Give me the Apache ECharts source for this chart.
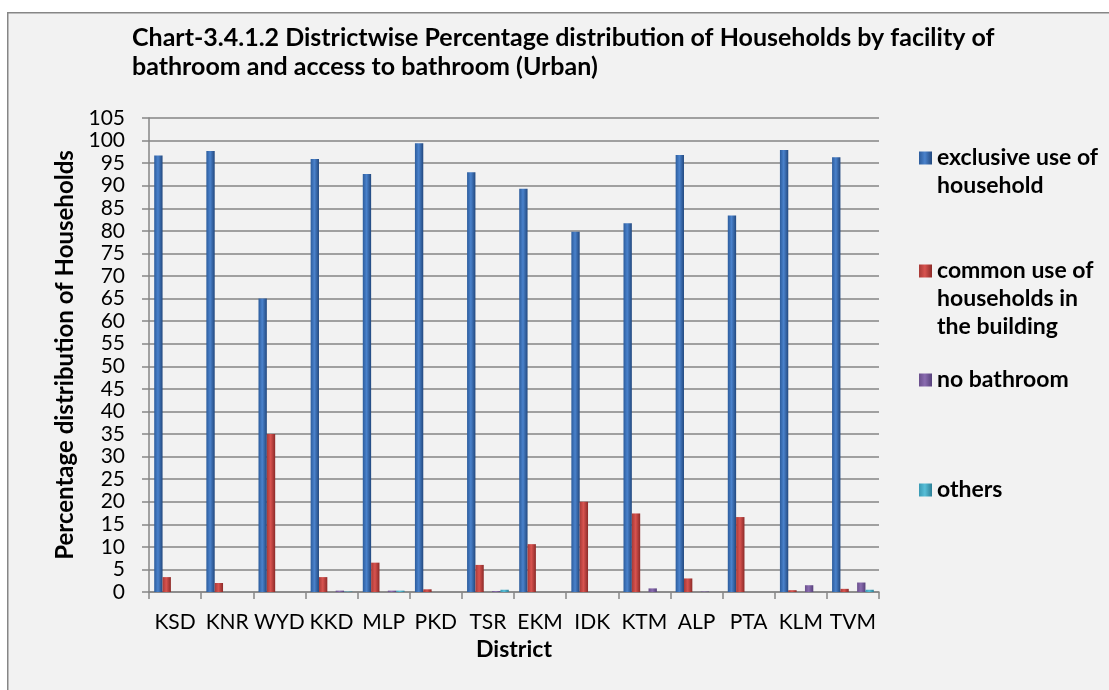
<!DOCTYPE html>
<html>
<head>
<meta charset="utf-8">
<title>Chart-3.4.1.2</title>
<script src="https://cdn.jsdelivr.net/npm/echarts@6/dist/echarts.min.js"></script>
<style>
  html, body { margin: 0; padding: 0; background: #fff; }
  #chart { width: 1109px; height: 690px; }
</style>
</head>
<body>
<div id="chart"></div>
<script>
// Districts (x axis)
const districts = ['KSD', 'KNR', 'WYD', 'KKD', 'MLP', 'PKD', 'TSR', 'EKM', 'IDK', 'KTM', 'ALP', 'PTA', 'KLM', 'TVM']

// Percentage of households
const exclusiveUse = [96.7, 97.7, 65.0, 95.9, 92.6, 99.4, 93.0, 89.3, 79.8, 81.7, 96.8, 83.4, 97.9, 96.3]
const commonUse = [3.3, 2.0, 35.0, 3.3, 6.5, 0.6, 6.0, 10.6, 20.0, 17.4, 3.0, 16.6, 0.4, 0.7]
const noBathroom = [0, 0, 0, 0.3, 0.3, 0, 0.2, 0, 0, 0.8, 0.1, 0, 1.5, 2.1]
const others = [0, 0, 0, 0.1, 0.3, 0, 0.5, 0, 0, 0, 0, 0, 0, 0.5]
// the original leaves an empty slot between the 2nd and 3rd series
const emptySlot = districts.map(() => null)

const seriesNames = [
  'exclusive use of household',
  'common use of households in the building',
  'no bathroom',
  'others',
]
// legend labels wrapped as in the original
const legendLabels = [
  'exclusive use of\nhousehold',
  'common use of\nhouseholds in\nthe building',
  'no bathroom',
  'others',
]

const yTicks = { min: 0, max: 105, interval: 5 }

const FONT = 'Lato, "Open Sans", sans-serif'
const LEGEND_LH = 28

// shaded column fill (dark edge, light middle, dark edge)
function shade(dark, light, darker) {
  return new echarts.graphic.LinearGradient(0, 0, 1, 0, [
    { offset: 0, color: dark },
    { offset: 0.45, color: light },
    { offset: 1, color: darker },
  ])
}

const fills = [
  shade('#2c5c9c', '#4a82cc', '#22487e'),
  shade('#a83a37', '#d8534f', '#8c2a28'),
  shade('#6a4f8c', '#8a6cb0', '#56407a'),
  shade('#3a9ab4', '#58bfd8', '#2c7f96'),
]

const seriesData = [exclusiveUse, commonUse, noBathroom, others]

function barSeries(i) {
  return {
    name: seriesNames[i],
    type: 'bar',
    data: seriesData[i],
    itemStyle: { color: fills[i] },
    barGap: 0,
    barCategoryGap: '20%',
  }
}

// legend marker centres (y) for each entry
const legendMarkY = [158, 271, 380, 490]

// the legend centres the marker on the text block, so blank lines are
// put on top to keep the marker level with the first line
const legends = seriesNames.map((name, i) => {
  const lines = legendLabels[i].split('\n').length
  const boxH = (2 * lines - 1) * LEGEND_LH
  const label = '\n'.repeat(lines - 1) + legendLabels[i]
  return {
    data: [name],
    orient: 'vertical',
    left: 919,
    top: legendMarkY[i] - boxH / 2,
    padding: 0,
    itemWidth: 13,
    itemHeight: 13,
    itemGap: 0,
    icon: 'rect',
    formatter: () => label,
    textStyle: {
      fontFamily: FONT,
      fontSize: 23,
      fontWeight: 'bold',
      color: '#000',
      lineHeight: LEGEND_LH,
    },
  }
})

const chart = echarts.init(document.getElementById('chart'))

chart.setOption({
  backgroundColor: '#ffffff',
  animation: false,
  graphic: [
    {
      type: 'rect',
      left: 7,
      top: 12,
      z: -10,
      shape: { width: 1200, height: 800 },
      style: { fill: '#f2f2f2', stroke: '#868686', lineWidth: 1.5 },
    },
  ],
  title: {
    text: 'Chart-3.4.1.2 Districtwise Percentage distribution of Households by facility of\nbathroom and access to bathroom (Urban)',
    left: 127,
    top: 18,
    textStyle: {
      fontFamily: FONT,
      fontSize: 25,
      fontWeight: 'bold',
      color: '#000',
      lineHeight: 29,
    },
  },
  legend: legends,
  grid: {
    left: 149,
    right: 230,
    top: 118,
    bottom: 98,
    containLabel: false,
  },
  xAxis: {
    type: 'category',
    data: districts,
    name: 'District',
    nameLocation: 'middle',
    nameGap: 46,
    nameTextStyle: { fontFamily: FONT, fontSize: 23, fontWeight: 'bold', color: '#000' },
    axisLine: { lineStyle: { color: '#868686', width: 1.5 } },
    axisTick: { show: true, length: 7, lineStyle: { color: '#868686', width: 1.5 } },
    axisLabel: { fontFamily: FONT, fontSize: 21, color: '#000', margin: 20, interval: 0 },
  },
  yAxis: {
    type: 'value',
    min: yTicks.min,
    max: yTicks.max,
    interval: yTicks.interval,
    name: 'Percentage distribution of Households',
    nameLocation: 'middle',
    nameGap: 70,
    nameTextStyle: { fontFamily: FONT, fontSize: 24, fontWeight: 'bold', color: '#000' },
    axisLine: { show: true, lineStyle: { color: '#868686', width: 1.5 } },
    axisTick: { show: true, length: 7, lineStyle: { color: '#868686', width: 1.5 } },
    axisLabel: { fontFamily: FONT, fontSize: 21, color: '#000', margin: 24, lineHeight: 21 },
    splitLine: { lineStyle: { color: '#858585', width: 1.5 } },
  },
  series: [
    barSeries(0),
    barSeries(1),
    { name: '', type: 'bar', data: emptySlot, barGap: 0, barCategoryGap: '20%' },
    barSeries(2),
    barSeries(3),
  ],
})

window.addEventListener('resize', () => chart.resize())
</script>
</body>
</html>
